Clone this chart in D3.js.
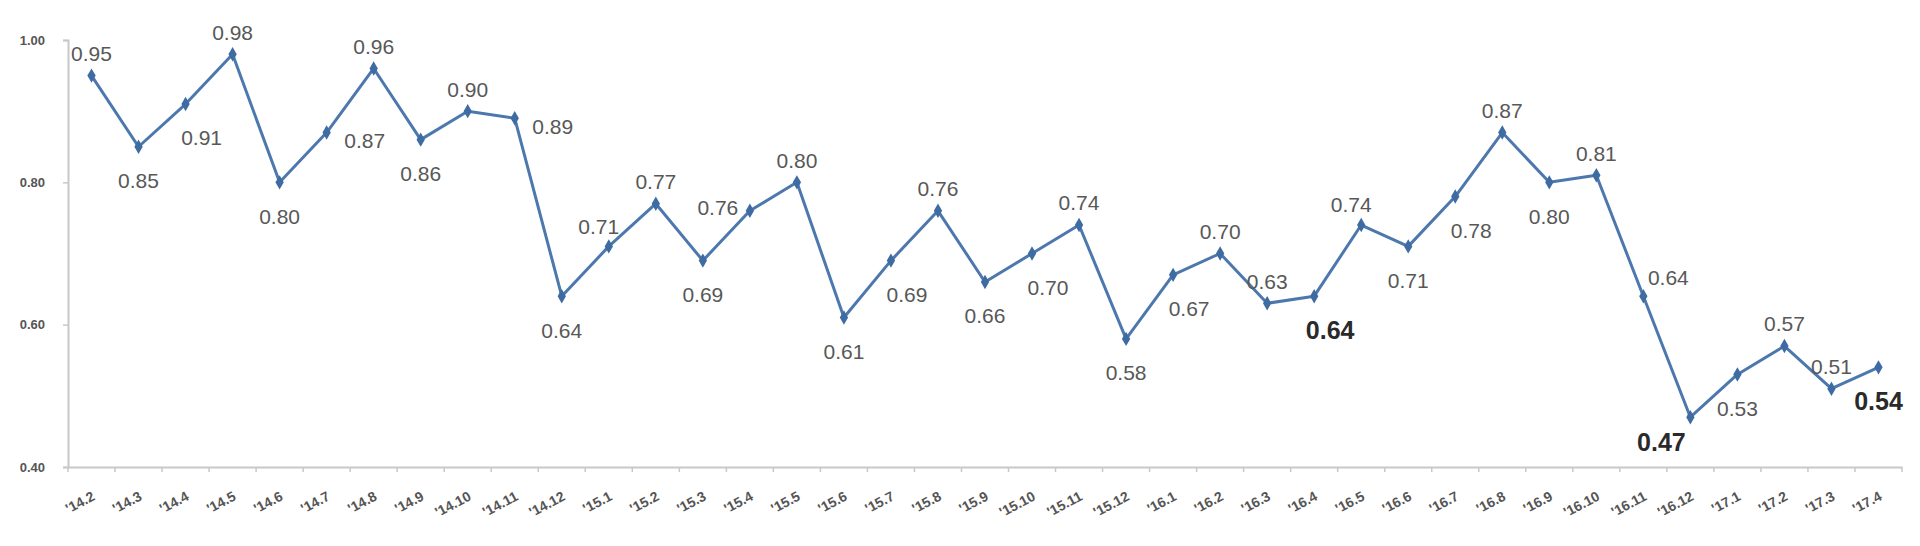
<!DOCTYPE html>
<html>
<head>
<meta charset="utf-8">
<script src="https://cdn.jsdelivr.net/npm/d3@7"></script>
<style>
  html, body { margin: 0; padding: 0; background: #ffffff; }
  svg { display: block; }
</style>
</head>
<body>
<svg id="chart" width="1920" height="546"></svg>
<script>
const categories = [
  "'14.2","'14.3","'14.4","'14.5","'14.6","'14.7","'14.8","'14.9","'14.10","'14.11","'14.12",
  "'15.1","'15.2","'15.3","'15.4","'15.5","'15.6","'15.7","'15.8","'15.9","'15.10","'15.11","'15.12",
  "'16.1","'16.2","'16.3","'16.4","'16.5","'16.6","'16.7","'16.8","'16.9","'16.10","'16.11","'16.12",
  "'17.1","'17.2","'17.3","'17.4"
];
const values = [
  0.95,0.85,0.91,0.98,0.80,0.87,0.96,0.86,0.90,0.89,0.64,
  0.71,0.77,0.69,0.76,0.80,0.61,0.69,0.76,0.66,0.70,0.74,0.58,
  0.67,0.70,0.63,0.64,0.74,0.71,0.78,0.87,0.80,0.81,0.64,0.47,
  0.53,0.57,0.51,0.54
];
// label placement keyword for each point (t=top, b=bottom, r=right, l=left, ...)
const labelPlacement = [
  "t","b","br","t","b","r","t","b","t","r","b",
  "tl","t","b","l","t","b","br","t","b","br","t","b",
  "br","t","t","br","tl","b","br","t","b","t","tr","bl",
  "b","t","t","b"
];
// highlighted (bold) labels
const highlighted = ["'16.4","'16.12","'17.4"];
const yTicks = [0.40, 0.60, 0.80, 1.00];

(function () {
const svg = d3.select("#chart");
const mLeft = 68, mRight = 1902, mTop = 40, mBottom = 467;

const x = d3.scaleBand().domain(categories).range([mLeft, mRight]).paddingInner(0).paddingOuter(0);
const y = d3.scaleLinear().domain([0.4, 1.0]).range([mBottom, mTop]);

const axisColor = "#c8c8c8";
const lineColor = "#4c78ae";
const fontFam = "Liberation Sans Narrow, Liberation Sans, sans-serif";

// Y axis
const yAxis = svg.append("g")
  .attr("transform", `translate(${mLeft},0)`)
  .call(d3.axisLeft(y).tickValues(yTicks).tickFormat(d3.format(".2f")).tickSize(5).tickPadding(18));
yAxis.select(".domain").attr("stroke", axisColor).attr("stroke-width", 2);
yAxis.selectAll(".tick line").attr("stroke", axisColor).attr("stroke-width", 1.5);
yAxis.selectAll(".tick text")
  .attr("fill", "#555").attr("font-family", fontFam)
  .attr("font-size", 13).attr("font-weight", "bold");

// X axis
const xAxis = svg.append("g")
  .attr("transform", `translate(0,${mBottom})`)
  .call(d3.axisBottom(x).tickSize(0).tickSizeOuter(0).tickPadding(0));
xAxis.select(".domain").attr("stroke", axisColor).attr("stroke-width", 2);
xAxis.selectAll(".tick text")
  .attr("fill", "#555")
  .attr("font-family", fontFam)
  .attr("font-size", 14).attr("font-weight", "bold")
  .attr("text-anchor", "end")
  .attr("transform", "translate(2,28) rotate(-28)")
  .attr("dy", "0.35em");
// boundary tick marks
const edges = categories.map(c => x(c)).concat([x.range()[1]]);
xAxis.selectAll(".edge").data(edges).enter().append("line")
  .attr("class", "edge")
  .attr("x1", d => d).attr("x2", d => d)
  .attr("y1", 0).attr("y2", 5)
  .attr("stroke", axisColor).attr("stroke-width", 1.5);

// Line
const cx = c => x(c) + x.bandwidth() / 2;
const data = categories.map((c, i) => ({ c, v: values[i], p: labelPlacement[i] }));
const line = d3.line().x(d => cx(d.c)).y(d => y(d.v));
svg.append("path").datum(data)
  .attr("fill", "none").attr("stroke", lineColor).attr("stroke-width", 3)
  .attr("stroke-linejoin", "round").attr("d", line);

// Markers (diamonds)
svg.selectAll(".mk").data(data).enter().append("path")
  .attr("class", "mk")
  .attr("transform", d => `translate(${cx(d.c)},${y(d.v)})`)
  .attr("d", d3.symbol().type(d3.symbolDiamond).size(60))
  .attr("fill", "#3f6ba3");

// Labels
const off = {
  t: [0, -22], b: [0, 34], br: [16, 34], tl: [-10, -20],
  l: [-32, -3], r: [38, 8], tr: [25, -19], bl: [-29, 25]
};
svg.selectAll(".lbl").data(data).enter().append("text")
  .attr("class", "lbl")
  .attr("x", d => cx(d.c) + off[d.p][0])
  .attr("y", d => y(d.v) + off[d.p][1])
  .attr("dy", "0.35em")
  .attr("text-anchor", "middle")
  .attr("font-family", fontFam)
  .attr("font-size", d => highlighted.includes(d.c) ? 25 : 21)
  .attr("font-weight", d => highlighted.includes(d.c) ? "bold" : "normal")
  .attr("fill", d => highlighted.includes(d.c) ? "#2a2a2a" : "#585858")
  .text(d => d3.format(".2f")(d.v));
})();
</script>
</body>
</html>
